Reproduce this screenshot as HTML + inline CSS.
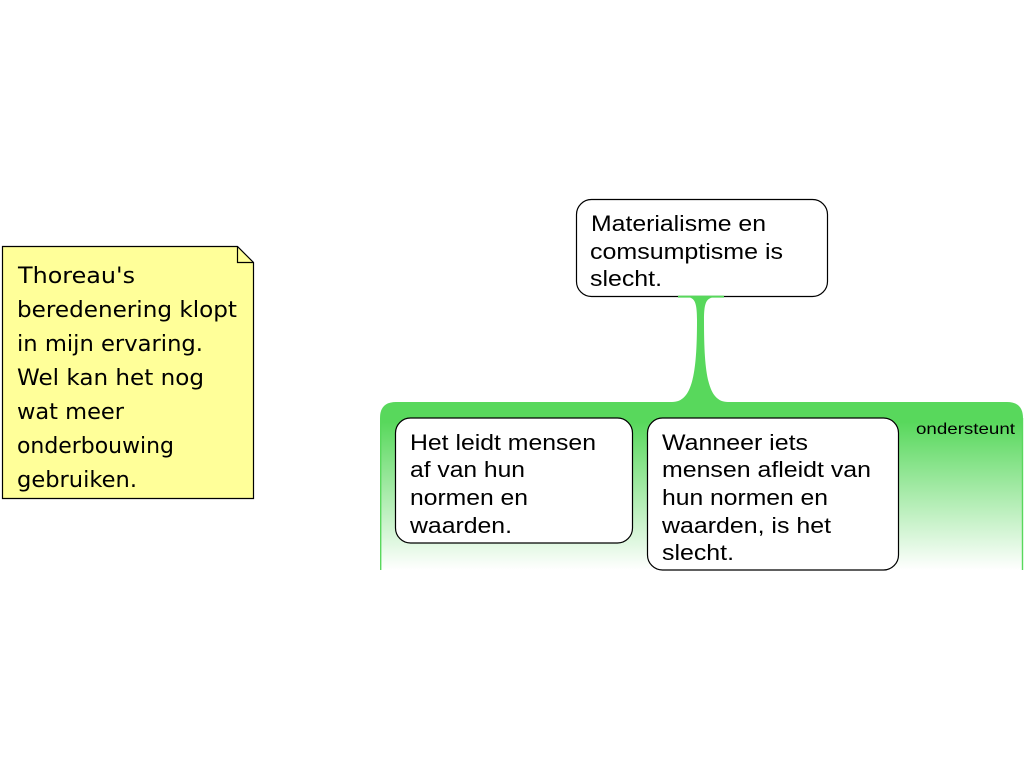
<!DOCTYPE html>
<html>
<head>
<meta charset="utf-8">
<style>
html,body{margin:0;padding:0;background:#fff;width:1024px;height:768px;overflow:hidden}
svg{display:block}
.n{font-family:"Liberation Sans",Arial,sans-serif;font-size:22px;fill:#000}
.c{font-family:"Comic Sans MS","DejaVu Sans",sans-serif;font-size:22px;fill:#000}
.l{font-family:"Liberation Sans",Arial,sans-serif;font-size:16px;fill:#000}
</style>
</head>
<body>
<svg width="1024" height="768" viewBox="0 0 1024 768" xmlns="http://www.w3.org/2000/svg">
<defs>
<linearGradient id="g" x1="0" y1="402" x2="0" y2="570" gradientUnits="userSpaceOnUse">
<stop offset="0" stop-color="#58d85c"/>
<stop offset="0.12" stop-color="#58d85c"/>
<stop offset="1" stop-color="#ffffff"/>
</linearGradient>
</defs>

<!-- Note -->
<path d="M2.5 246.5H237.5L253.5 262.5V498.5H2.5Z" fill="#ffff99" stroke="#000" stroke-width="1.2"/>
<path d="M237.5 246.5V262.5H253.5" fill="none" stroke="#000" stroke-width="1.2"/>
<g class="c">
<text x="18" y="283" textLength="117" lengthAdjust="spacingAndGlyphs">Thoreau's</text>
<text x="17" y="317" textLength="220" lengthAdjust="spacingAndGlyphs">beredenering klopt</text>
<text x="17" y="351" textLength="186" lengthAdjust="spacingAndGlyphs">in mijn ervaring.</text>
<text x="17" y="385" textLength="187" lengthAdjust="spacingAndGlyphs">Wel kan het nog</text>
<text x="17" y="419" textLength="107" lengthAdjust="spacingAndGlyphs">wat meer</text>
<text x="17" y="453" textLength="157" lengthAdjust="spacingAndGlyphs">onderbouwing</text>
<text x="17" y="487" textLength="120" lengthAdjust="spacingAndGlyphs">gebruiken.</text>
</g>

<!-- Green region -->
<path d="M380 570V418Q380 402 396 402H1007Q1023 402 1023 418V570Z" fill="url(#g)"/>
<rect x="380" y="418" width="1.4" height="152" fill="#58d85c"/>
<rect x="1021.8" y="418" width="1.4" height="152" fill="#58d85c"/>

<!-- Top node -->
<rect x="576.5" y="199.5" width="251" height="97" rx="15" ry="15" fill="#fff" stroke="#000" stroke-width="1.2"/>

<!-- Connector -->
<path d="M678 295.6H724V297.6H712C706 299 704 304 704 320C704 375 708 402 728 402V404H672V402C692 402 697 375 697 320C697 304 695 299 690 297.6H678Z" fill="#58d85c"/>

<g class="n">
<text x="591" y="231" textLength="175" lengthAdjust="spacingAndGlyphs">Materialisme en</text>
<text x="590" y="259" textLength="193" lengthAdjust="spacingAndGlyphs">comsumptisme is</text>
<text x="590" y="286" textLength="72" lengthAdjust="spacingAndGlyphs">slecht.</text>
</g>

<!-- Left child -->
<rect x="395.5" y="418" width="237" height="125" rx="15" ry="15" fill="#fff" stroke="#000" stroke-width="1.2"/>
<g class="n">
<text x="410" y="450" textLength="186" lengthAdjust="spacingAndGlyphs">Het leidt mensen</text>
<text x="410" y="477" textLength="115" lengthAdjust="spacingAndGlyphs">af van hun</text>
<text x="410" y="505" textLength="118" lengthAdjust="spacingAndGlyphs">normen en</text>
<text x="410" y="533" textLength="102" lengthAdjust="spacingAndGlyphs">waarden.</text>
</g>

<!-- Right child -->
<rect x="647.5" y="418" width="251" height="152" rx="15" ry="15" fill="#fff" stroke="#000" stroke-width="1.2"/>
<g class="n">
<text x="662" y="450" textLength="146" lengthAdjust="spacingAndGlyphs">Wanneer iets</text>
<text x="662" y="477" textLength="209" lengthAdjust="spacingAndGlyphs">mensen afleidt van</text>
<text x="662" y="505" textLength="166" lengthAdjust="spacingAndGlyphs">hun normen en</text>
<text x="662" y="533" textLength="169" lengthAdjust="spacingAndGlyphs">waarden, is het</text>
<text x="662" y="560" textLength="72" lengthAdjust="spacingAndGlyphs">slecht.</text>
</g>

<text class="l" x="916" y="434" textLength="99" lengthAdjust="spacingAndGlyphs">ondersteunt</text>
</svg>
</body>
</html>
